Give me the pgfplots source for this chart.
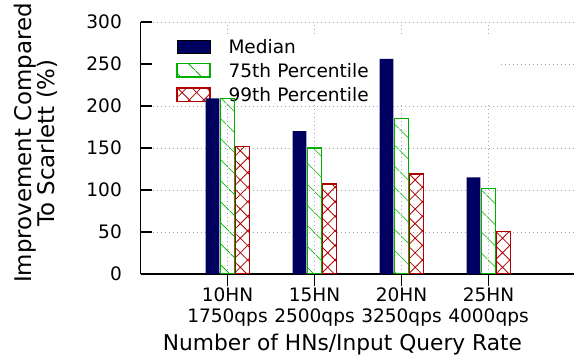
\documentclass[border=0pt]{standalone}
\usepackage{fontspec}
\setmainfont{DejaVu Sans}
\usepackage{pgfplots}
\pgfplotsset{compat=1.18}
\usetikzlibrary{patterns.meta}
\definecolor{navybar}{HTML}{000060}
\definecolor{greenbar}{HTML}{00B000}
\definecolor{redbar}{HTML}{B00000}
\pgfplotsset{
  layers/mylayers/.define layer set={
    axis background,axis grid,axis descriptions,axis ticks,axis lines,axis tick labels,pre main,main,axis foreground
  }{
    grid style={/pgfplots/on layer=axis grid},
    tick style={/pgfplots/on layer=axis ticks},
    axis line style={/pgfplots/on layer=axis lines},
    label style={/pgfplots/on layer=axis descriptions},
    legend style={/pgfplots/on layer=axis descriptions},
    title style={/pgfplots/on layer=axis descriptions},
    ticklabel style={/pgfplots/on layer=axis tick labels},
  },
}
\begin{document}
\begin{tikzpicture}
\begin{axis}[
  set layers=mylayers,
  scale only axis,
  width=433.3bp, height=252bp,
  xmin=0, xmax=4.98, ymin=0, ymax=300,
  axis x line*=bottom, axis y line*=left,
  axis line style={-, line width=1.2bp, black},
  xtick={1,2,3,4},
  xticklabels={{10HN\\1750qps},{15HN\\2500qps},{20HN\\3250qps},{25HN\\4000qps}},
  ytick={0,50,100,150,200,250,300},
  xtick align=outside, ytick align=inside,
  major tick length=12bp,
  tick style={line width=1.2bp, black},
  tick label style={font=\fontsize{18.6}{21.5}\selectfont},
  /pgf/number format/assume math mode=true,
  yticklabel style={inner sep=0pt, anchor=east, xshift=-18.5bp},
  xticklabel style={align=center, inner sep=0pt, anchor=north, yshift=-1.5bp},
  grid=major,
  major grid style={line width=0.8bp, gray!70, dash pattern=on 1bp off 3bp},
  xlabel={Number of HNs/Input Query Rate},
  ylabel={Improvement Compared\\To Scarlett (\%)},
  every axis x label/.style={at={([xshift=202bp,yshift=-59.5bp]axis description cs:0,0)}, anchor=north, inner sep=0pt, font=\fontsize{21.8}{22}\selectfont},
  every axis y label/.style={at={([xshift=-104.8bp,yshift=5bp]axis description cs:0,0.5)}, rotate=90, anchor=center, align=center, inner sep=0pt, font=\fontsize{23}{21.5}\selectfont},
  ybar, bar width=13.6bp,
  legend cell align=left,
  legend image code/.code={\draw[#1] (0bp,-6.5bp) rectangle (33bp,6.5bp);},
  legend style={at={(axis description cs:0,1)}, anchor=north west, xshift=0.5bp, yshift=-14bp,
    draw=none, fill=white, inner xsep=35bp, inner ysep=3.5bp, row sep=10bp, column sep=18bp,
    font=\fontsize{18.6}{21.5}\selectfont,
    nodes={inner sep=0pt, text height=13.5bp, text depth=0bp, text width=234bp}},
]
\addplot[bar shift=-15bp, fill=navybar, draw=none] coordinates {(1,209) (2,170) (3,256) (4,115)};
\addplot[bar shift=0bp, draw=greenbar, line width=1.3bp, pattern={Lines[angle=-45,distance=15bp,line width=0.8bp]}, pattern color=greenbar] coordinates {(1,209) (2,150) (3,185) (4,102)};
\addplot[bar shift=15bp, draw=redbar, line width=1.3bp, pattern={Hatch[angle=45,distance=10.3bp,line width=0.8bp]}, pattern color=redbar] coordinates {(1,152) (2,107) (3,119) (4,51)};
\legend{Median,75th Percentile,99th Percentile}
\end{axis}
\pgfresetboundingbox
\path[use as bounding box] (-140.5bp,-88bp) rectangle (433.5bp,274bp);
\end{tikzpicture}
\end{document}
